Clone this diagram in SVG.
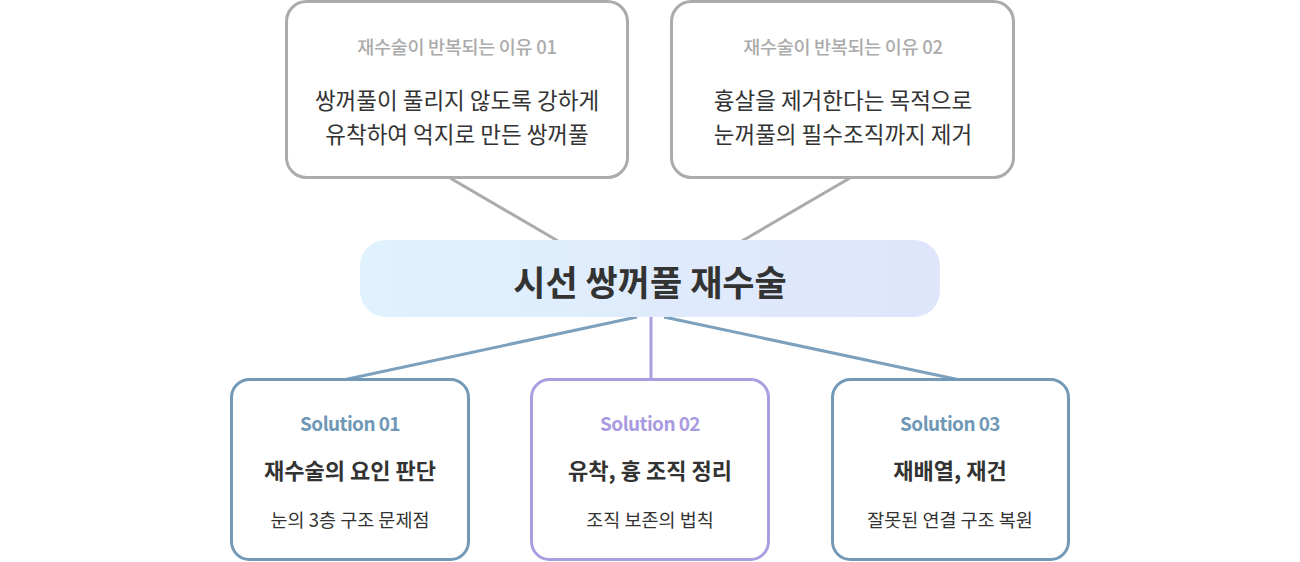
<svg xmlns="http://www.w3.org/2000/svg" width="1300" height="562" viewBox="0 0 1300 562">
<defs>
<linearGradient id="cg" x1="0" y1="0" x2="1" y2="0">
<stop offset="0" stop-color="#dff2fd"/>
<stop offset="1" stop-color="#dfe5fb"/>
</linearGradient>
<style>
text{font-family:"Noto Sans CJK KR","Noto Sans",sans-serif;text-anchor:middle}
.top{fill:#fff;stroke:#ababab;stroke-width:3}
.tt{font-size:18.5px;fill:#ababab;font-weight:500;letter-spacing:-0.3px}
.tl{font-size:22.5px;fill:#333}
.sol{fill:#fff;stroke-width:3}
.sb{stroke:#7399b6}
.sp{stroke:#ab9ee0}
.sl{font-size:19px;font-weight:700;letter-spacing:-0.6px}
.st{font-size:22px;font-weight:700;fill:#333}
.ss{font-size:18.5px;fill:#333}
</style>
</defs>
<rect width="1300" height="562" fill="#fff"/>
<g id="connectors" fill="none" stroke-width="3">
<line x1="450" y1="178" x2="558" y2="241" stroke="#ababab"/>
<line x1="850" y1="178" x2="742" y2="241" stroke="#ababab"/>
<line x1="637" y1="317" x2="343" y2="380" stroke="#7da1bd"/>
<line x1="664" y1="317" x2="960" y2="380" stroke="#7da1bd"/>
<line x1="651" y1="317" x2="651" y2="380" stroke="#ab9ee0"/>
</g>
<g id="reason1">
<rect class="top" x="286.5" y="1.5" width="341" height="176" rx="20"/>
<text class="tt" x="457" y="54">재수술이 반복되는 이유 01</text>
<text class="tl" x="457" y="109">쌍꺼풀이 풀리지 않도록 강하게</text>
<text class="tl" x="457" y="143">유착하여 억지로 만든 쌍꺼풀</text>
</g>
<g id="reason2">
<rect class="top" x="671.5" y="1.5" width="342" height="176" rx="20"/>
<text class="tt" x="843" y="54">재수술이 반복되는 이유 02</text>
<text class="tl" x="843" y="109">흉살을 제거한다는 목적으로</text>
<text class="tl" x="843" y="143">눈꺼풀의 필수조직까지 제거</text>
</g>
<g id="center">
<rect x="360" y="240" width="580" height="77" rx="26" fill="url(#cg)"/>
<text x="650" y="296" style="font-size:35px;font-weight:700;fill:#333">시선 쌍꺼풀 재수술</text>
</g>
<g id="sol1">
<rect class="sol sb" x="231.5" y="379.5" width="237" height="180" rx="18"/>
<text class="sl" x="350" y="431" fill="#6f97b6">Solution 01</text>
<text class="st" x="350" y="479">재수술의 요인 판단</text>
<text class="ss" x="350" y="527">눈의 3층 구조 문제점</text>
</g>
<g id="sol2">
<rect class="sol sp" x="531.5" y="379.5" width="237" height="180" rx="18"/>
<text class="sl" x="650" y="431" fill="#a99be0">Solution 02</text>
<text class="st" x="650" y="479">유착, 흉 조직 정리</text>
<text class="ss" x="650" y="527">조직 보존의 법칙</text>
</g>
<g id="sol3">
<rect class="sol sb" x="832.5" y="379.5" width="236" height="180" rx="18"/>
<text class="sl" x="950" y="431" fill="#6f97b6">Solution 03</text>
<text class="st" x="950" y="479">재배열, 재건</text>
<text class="ss" x="950" y="527">잘못된 연결 구조 복원</text>
</g>
</svg>
